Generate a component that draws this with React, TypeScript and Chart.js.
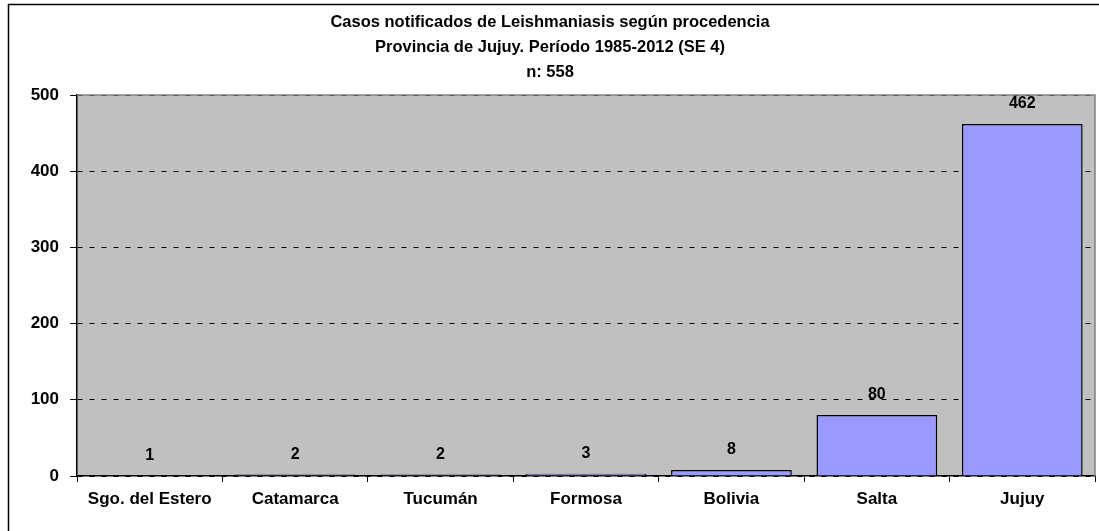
import React, { useEffect, useRef } from "react";
import { Chart, registerables } from "chart.js";

Chart.register(...registerables);

const categories = ["Sgo. del Estero", "Catamarca", "Tucumán", "Formosa", "Bolivia", "Salta", "Jujuy"];
const cases = [1, 2, 2, 3, 8, 80, 462];
const titleLines = [
  "Casos notificados de Leishmaniasis según procedencia",
  "Provincia de Jujuy. Período 1985-2012 (SE 4)",
  "n: 558",
];
const FONT = "'Liberation Sans', Arial, sans-serif";

const framePlugin = {
  id: "frame",
  beforeDraw(chart: any) {
    const { ctx, chartArea: a, width, height } = chart;
    ctx.save();
    ctx.fillStyle = "#ffffff";
    ctx.fillRect(0, 0, width, height);
    ctx.fillStyle = "#C0C0C0";
    ctx.fillRect(a.left, a.top, a.right - a.left, a.bottom - a.top);
    ctx.strokeStyle = "#000000";
    ctx.lineWidth = 1.5;
    ctx.beginPath();
    ctx.moveTo(8.5, height + 5);
    ctx.lineTo(8.5, 4.5);
    ctx.lineTo(width + 5, 4.5);
    ctx.stroke();
    ctx.fillStyle = "#000000";
    ctx.font = `bold 16.5px ${FONT}`;
    ctx.textAlign = "center";
    ctx.textBaseline = "middle";
    titleLines.forEach((t, i) => ctx.fillText(t, 550, 22 + i * 25));
    ctx.restore();
  },
  afterDatasetsDraw(chart: any) {
    const { ctx, chartArea: a } = chart;
    ctx.save();
    ctx.strokeStyle = "#808080";
    ctx.lineWidth = 1.5;
    ctx.beginPath();
    ctx.moveTo(a.left, a.top);
    ctx.lineTo(a.right, a.top);
    ctx.lineTo(a.right, a.bottom);
    ctx.stroke();
    const meta = chart.getDatasetMeta(0);
    ctx.fillStyle = "#000000";
    ctx.font = `bold 16px ${FONT}`;
    ctx.textAlign = "center";
    ctx.textBaseline = "middle";
    meta.data.forEach((el: any, i: number) => {
      ctx.fillText(String(cases[i]), el.x, el.y - 20);
    });
    ctx.restore();
  },
};

export default function App() {
  const ref = useRef<HTMLCanvasElement>(null);
  useEffect(() => {
    if (!ref.current) return;
    const chart = new Chart(ref.current, {
      type: "bar",
      data: {
        labels: categories,
        datasets: [
          {
            data: cases,
            backgroundColor: "#9999FF",
            borderColor: "#000000",
            borderWidth: 1.5,
            barPercentage: 0.83,
            categoryPercentage: 1,
          },
        ],
      },
      options: {
        animation: false,
        responsive: false,
        maintainAspectRatio: false,
        layout: { padding: { left: 0, right: 4, top: 95, bottom: 0 } },
        plugins: { legend: { display: false }, title: { display: false }, tooltip: { enabled: false } },
        scales: {
          x: {
            grid: { offset: true, drawOnChartArea: false, color: "#000000", tickLength: 6, lineWidth: 1 },
            border: { color: "#000000", width: 1.5 },
            ticks: { color: "#000000", font: { family: FONT, size: 17, weight: "bold" }, padding: 7, maxRotation: 0 },
            afterFit: (s: any) => { s.height = 55; },
          },
          y: {
            min: 0,
            max: 500,
            ticks: { stepSize: 100, color: "#000000", font: { family: FONT, size: 17, weight: "bold" }, padding: 11 },
            grid: { color: "#000000", tickLength: 7, lineWidth: 1, tickBorderDash: [] },
            border: { color: "#000000", width: 1.5, dash: [5, 7] },
            afterFit: (s: any) => { s.width = 77; },
          },
        },
      },
      plugins: [framePlugin],
    });
    return () => chart.destroy();
  }, []);
  return (
    <div style={{ position: "absolute", left: 0, top: 0, width: 1099, height: 531 }}>
      <canvas ref={ref} width={1099} height={531} style={{ display: "block" }} />
    </div>
  );
}
